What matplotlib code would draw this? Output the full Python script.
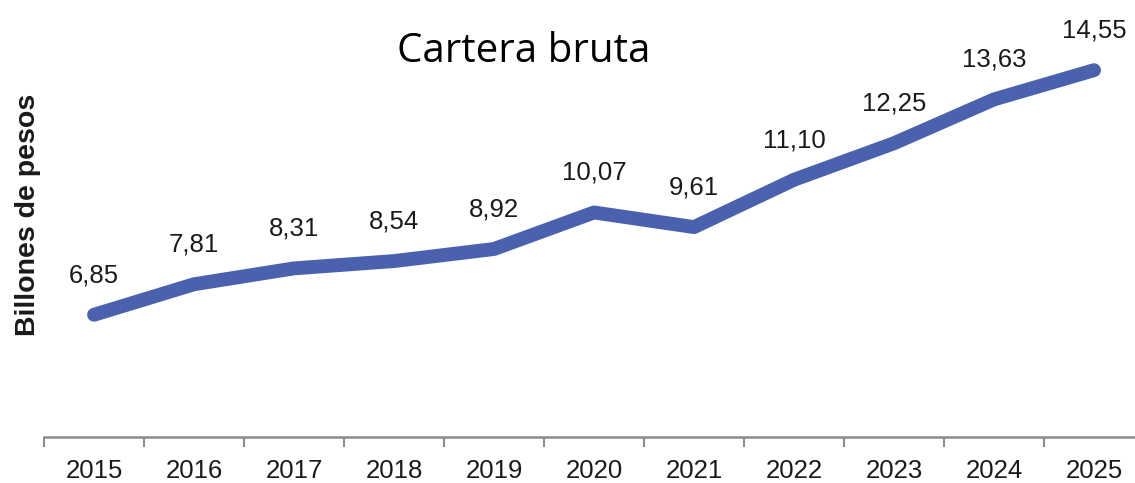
import matplotlib
matplotlib.use("Agg")
import matplotlib.pyplot as plt
from matplotlib.ticker import FixedLocator

years = ["2015", "2016", "2017", "2018", "2019", "2020", "2021", "2022", "2023", "2024", "2025"]
values = [6.85, 7.81, 8.31, 8.54, 8.92, 10.07, 9.61, 11.10, 12.25, 13.63, 14.55]
labels = ["6,85", "7,81", "8,31", "8,54", "8,92", "10,07", "9,61", "11,10", "12,25", "13,63", "14,55"]

plt.rcParams['font.family'] = ['Liberation Sans', 'DejaVu Sans']

fig = plt.figure(figsize=(11.35, 4.83), dpi=100)
ax = fig.add_axes([0.0388, 0.0952, 0.9612, 0.9048])

x = list(range(len(years)))
ax.plot(x, values, color='#4a62ad', lw=10, solid_capstyle='round', solid_joinstyle='round')

for xi, v, lab in zip(x, values, labels):
    ax.annotate(lab, (xi, v), xytext=(0, 28.5), textcoords='offset points',
                ha='center', va='center', fontsize=18.5, color='#1a1a1a')

ax.set_xlim(-0.5, 10.41)
ax.set_ylim(3.0, 16.76)

for s in ['top', 'right', 'left']:
    ax.spines[s].set_visible(False)
ax.spines['bottom'].set_color('#8c8c8c')
ax.spines['bottom'].set_linewidth(1.8)

ax.set_yticks([])
ax.set_xticks(x)
ax.set_xticklabels(years, fontsize=18.5, color='#1a1a1a')
ax.tick_params(axis='x', which='major', length=0, pad=16)
ax.xaxis.set_minor_locator(FixedLocator([i - 0.5 for i in range(len(years))]))
ax.tick_params(axis='x', which='minor', length=7, width=1.5, color='#8c8c8c', direction='out')

fig.text(0.0245, 0.555, "Billones de pesos", rotation=90, ha='center', va='center',
         fontsize=20.5, fontweight='bold', color='#1a1a1a')
fig.text(0.461, 0.892, "Cartera bruta", ha='center', va='center',
         fontsize=29, family=['Open Sans', 'DejaVu Sans'], color='black')

fig.savefig("out.png", dpi=100)
